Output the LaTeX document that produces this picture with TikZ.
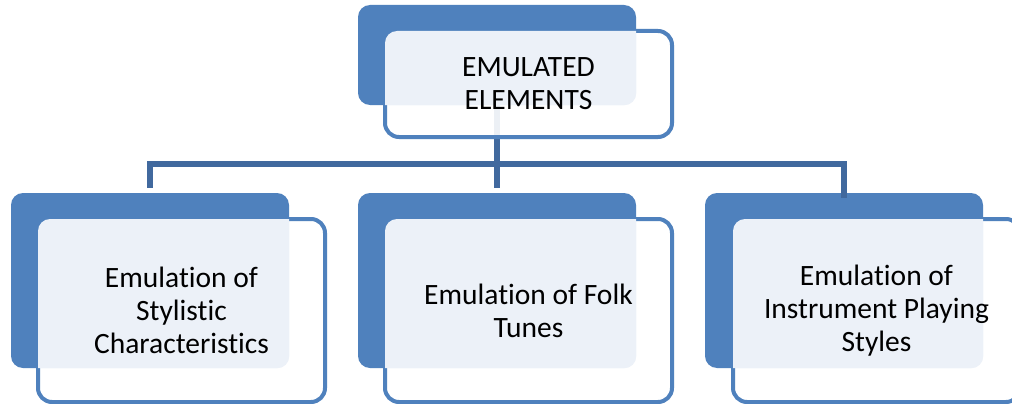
\documentclass[tikz,border=0pt]{standalone}
\usepackage{fontspec}
\setmainfont{Carlito}[Ligatures=NoCommon]
\usetikzlibrary{positioning}
\definecolor{accent}{HTML}{4F81BD}
\definecolor{accentdark}{HTML}{41699E}
\definecolor{tint}{HTML}{ECF1F8}
\tikzset{
  backbox/.style={fill=accent, draw=none, rounded corners=12pt, inner sep=0pt,
    minimum width=278pt},
  frontbox/.style={fill=white, fill opacity=0.9, draw=accent, draw opacity=1,
    line width=4pt, rounded corners=14pt, inner sep=0pt, minimum width=287pt},
  label/.style={align=center, font=\fontsize{29.5pt}{33pt}\selectfont, inner sep=0pt},
  conn/.style={draw=accentdark, line width=5.5pt},
}
% light band where the front card overlaps the back card
\newcommand{\tintband}[2]{%
  \begin{scope}
    \clip[rounded corners=12pt] ([shift={(2pt,2pt)}]#2.south west)
      rectangle ([shift={(-2pt,-2pt)}]#2.north east);
    \fill[tint, rounded corners=12pt] (#1.south west) rectangle (#1.north east);
  \end{scope}}
\begin{document}
\begin{tikzpicture}[x=1pt, y=-1pt]
\clip (0,0) rectangle (1012,404);
\fill[white] (0,0) rectangle (1012,404);

% back cards
\node[backbox, minimum height=100pt] (topB) at (497,55) {};
\node[backbox, minimum height=175pt] (leftB) at (150,280.5) {};
\node[backbox, minimum height=175pt] (midB) at (497,280.5) {};
\node[backbox, minimum height=175pt] (rightB) at (844,280.5) {};

% connectors
\coordinate (bus) at (0,164);
\draw[conn] (topB.center) -- (topB.center |- bus);
\draw[conn, shorten <=5pt] (leftB.north) |- (bus -| rightB.north) -- ([yshift=-5pt]rightB.north);
\draw[conn, shorten <=5pt] (midB.north) -- (midB.north |- bus);

% front cards
\node[frontbox, minimum height=106pt] (topF) at (528.5,84) {};
\node[frontbox, minimum height=183pt] (leftF) at (181.5,310.5) {};
\node[frontbox, minimum height=183pt] (midF) at (528.5,310.5) {};
\node[frontbox, minimum height=183pt] (rightF) at (876.5,310.5) {};

\tintband{topB}{topF}
\tintband{leftB}{leftF}
\tintband{midB}{midF}
\tintband{rightB}{rightF}

% labels
\node[label] (topT) at (topF.center) {EMULATED\\ELEMENTS};
\node[label] (leftT) at (leftF.center) {Emulation of\\Stylistic\\Characteristics};
\node[label] (midT) at (midF.center) {Emulation of Folk\\Tunes};
\node[label] (rightT) at (rightF.center) {Emulation of\\Instrument Playing\\Styles};
\end{tikzpicture}
\end{document}
